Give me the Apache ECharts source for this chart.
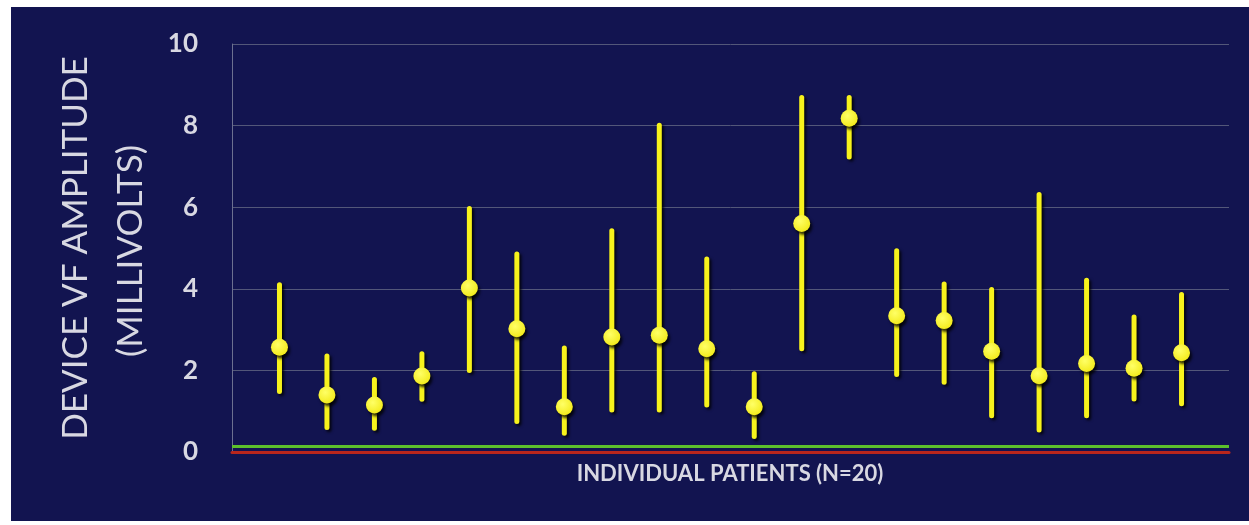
<!DOCTYPE html>
<html>
<head>
<meta charset="utf-8">
<script src="https://cdn.jsdelivr.net/npm/echarts@6/dist/echarts.min.js"></script>
<style>
  html, body { margin: 0; padding: 0; background: #fff; }
  #wrap { position: relative; width: 1249px; height: 525px; background: #fff; }
  #panel { position: absolute; left: 11px; top: 7px; width: 1238px; height: 514px; background: #121450; }
  #chart { position: absolute; left: 0; top: 0; width: 1249px; height: 525px; }
</style>
</head>
<body>
<div id="wrap">
  <div id="panel"></div>
  <div id="chart"></div>
</div>
<script>
// patient index along the x axis
const patients = [1, 2, 3, 4, 5, 6, 7, 8, 9, 10, 11, 12, 13, 14, 15, 16, 17, 18, 19, 20];
// mean amplitude (mV) per patient
const dotValues = [2.57, 1.40, 1.15, 1.86, 4.02, 3.02, 1.11, 2.82, 2.86, 2.53,
                   1.11, 5.60, 8.18, 3.34, 3.22, 2.47, 1.87, 2.17, 2.05, 2.43];
// range min / max
const lowValues = [1.48, 0.60, 0.58, 1.29, 2.00, 0.75, 0.46, 1.03, 1.03, 1.15,
                   0.38, 2.53, 7.23, 1.90, 1.71, 0.89, 0.54, 0.89, 1.30, 1.18];
const highValues = [4.10, 2.35, 1.78, 2.41, 5.97, 4.85, 2.55, 5.42, 8.01, 4.73,
                    1.92, 8.69, 8.69, 4.93, 4.12, 3.98, 6.31, 4.21, 3.31, 3.86];
const yTicks = [0, 2, 4, 6, 8, 10];

const textColor = '#d8d8e2';
const font = 'Lato, "Open Sans", sans-serif';

var myChart = echarts.init(document.getElementById('chart'));

const option = {
  backgroundColor: 'transparent',
  animation: false,
  grid: { left: 232, right: 20, top: 44, bottom: 73 },
  xAxis: {
    type: 'value',
    min: 0,
    max: 21,
    axisLabel: { show: false },
    axisTick: { show: false },
    splitLine: { show: false },
    axisLine: { lineStyle: { color: '#b8261c', width: 3 } }
  },
  yAxis: {
    type: 'value',
    min: yTicks[0],
    max: yTicks[yTicks.length - 1],
    interval: 2,
    axisTick: { show: false },
    axisLine: { show: true, lineStyle: { color: '#6c7090', width: 1 } },
    axisLabel: {
      color: textColor,
      fontSize: 26,
      fontWeight: 'bold',
      fontFamily: font,
      margin: 34
    },
    splitLine: { lineStyle: { color: '#535779', width: 1 } }
  },
  graphic: [
    {
      type: 'text',
      x: 76, y: 248,
      rotation: Math.PI / 2,
      style: {
        text: 'DEVICE VF AMPLITUDE',
        fill: textColor,
        font: '35px ' + font,
        textAlign: 'center',
        textVerticalAlign: 'middle'
      }
    },
    {
      type: 'text',
      x: 131, y: 251,
      rotation: Math.PI / 2,
      style: {
        text: '(MILLIVOLTS)',
        fill: textColor,
        font: '35px ' + font,
        textAlign: 'center',
        textVerticalAlign: 'middle'
      }
    },
    {
      type: 'text',
      x: 730, y: 474,
      style: {
        text: 'INDIVIDUAL PATIENTS (N=20)',
        fill: textColor,
        font: 'bold 22px ' + font,
        textAlign: 'center',
        textVerticalAlign: 'middle'
      }
    }
  ],
  series: [
    {
      name: 'range',
      type: 'custom',
      z: 3,
      data: patients.map((p, i) => [p, lowValues[i], highValues[i]]),
      renderItem: function (params, api) {
        var lo = api.coord([api.value(0), api.value(1)]);
        var hi = api.coord([api.value(0), api.value(2)]);
        return {
          type: 'line',
          shape: { x1: lo[0], y1: lo[1], x2: hi[0], y2: hi[1] },
          style: {
            stroke: '#f7f21c',
            lineWidth: 5,
            lineCap: 'round',
            shadowColor: 'rgba(0,0,0,0.85)',
            shadowBlur: 3,
            shadowOffsetX: 2,
            shadowOffsetY: 2
          }
        };
      }
    },
    {
      name: 'mean',
      type: 'scatter',
      z: 4,
      symbolSize: 17,
      data: patients.map((p, i) => [p, dotValues[i]]),
      itemStyle: {
        color: {
          type: 'radial', x: 0.4, y: 0.35, r: 0.7,
          colorStops: [
            { offset: 0, color: '#ffff66' },
            { offset: 1, color: '#f2ea18' }
          ]
        },
        opacity: 1,
        shadowColor: 'rgba(0,0,0,0.8)',
        shadowBlur: 3,
        shadowOffsetX: 2,
        shadowOffsetY: 3
      },
      markLine: {
        silent: true,
        symbol: 'none',
        label: { show: false },
        lineStyle: { color: '#5cc02c', width: 3, type: 'solid' },
        data: [{ yAxis: 0.15 }]
      }
    }
  ]
};

myChart.setOption(option);
</script>
</body>
</html>
